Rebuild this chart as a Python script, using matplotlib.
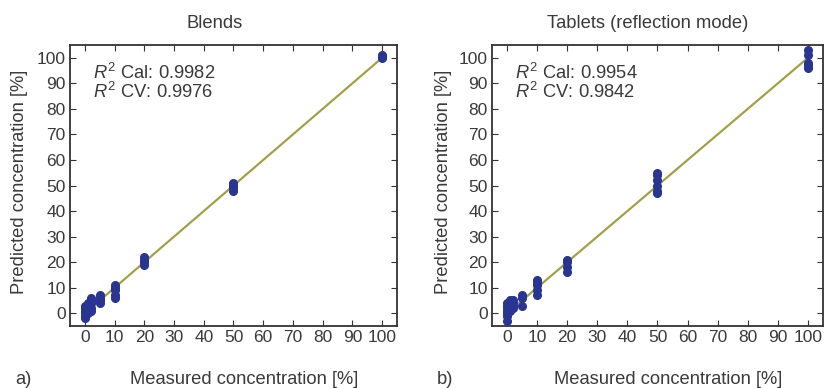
import matplotlib
matplotlib.use("Agg")
import matplotlib.pyplot as plt

plt.rcParams['font.family'] = ['Liberation Sans', 'DejaVu Sans']
plt.rcParams['mathtext.fontset'] = 'custom'
plt.rcParams['mathtext.rm'] = 'Liberation Sans'
plt.rcParams['mathtext.it'] = 'Liberation Sans:italic'

# Blends: measured vs predicted
blends_meas = [0, 0, 0, 0, 0, 0, 1, 1, 1, 1, 2, 2, 2, 2, 2, 5, 5, 5, 5,
               10, 10, 10, 10, 10, 20, 20, 20, 20, 50, 50, 50, 50, 100, 100, 100]
blends_pred = [-2, -1, 0, 1, 2, 3, 0, 1, 3, 4, 1, 2, 4, 5, 6, 4, 5, 6, 7,
               6, 7, 9, 10, 11, 19, 20, 21, 22, 48, 49, 50, 51, 100, 100.5, 101]
blends_r2 = ["0.9982", "0.9976"]

# Tablets (reflection mode)
tabl_meas = [0, 0, 0, 0, 0, 0, 0, 1, 1, 1, 1, 2, 2, 2, 2, 5, 5, 5,
             10, 10, 10, 10, 10, 20, 20, 20, 20, 50, 50, 50, 50, 50, 50,
             100, 100, 100, 100, 100]
tabl_pred = [-3, -1, 0, 1, 2, 3, 4, 1, 2, 4, 5, 2, 3, 4, 5, 3, 6, 7,
             7, 9, 11, 12, 13, 16, 18, 20, 21, 47, 48, 50, 52, 54, 55,
             96, 97, 98, 101, 103]
tabl_r2 = ["0.9954", "0.9842"]

titles = ["Blends", "Tablets (reflection mode)"]
panel_tags = ["a)", "b)"]
ticks = list(range(0, 101, 10))

W, H = 828, 388
txt = '#3a3a3a'
fs = 13.2

fig = plt.figure(figsize=(8.28, 3.88), dpi=100)
ax1 = fig.add_axes([70 / W, 1 - 326 / H, 327 / W, 281 / H])
ax2 = fig.add_axes([492 / W, 1 - 326 / H, 331 / W, 281 / H])

datasets = [(blends_meas, blends_pred, blends_r2), (tabl_meas, tabl_pred, tabl_r2)]
line_x = [0, 100]
title_x = [215, 648]
xlab_x = [244, 668]
ylab_x = [20, 444]
tag_x = [15, 437]

for i, ax in enumerate([ax1, ax2]):
    meas, pred, r2 = datasets[i]
    ax.plot(line_x, line_x, color='#a3a04a', lw=1.6, zorder=2)
    ax.plot(meas, pred, 'o', color='#2a3592', ms=5.5, zorder=3)
    ax.set_xlim(-5, 105)
    ax.set_ylim(-5, 105)
    ax.set_xticks(ticks)
    ax.set_yticks(ticks)
    ax.tick_params(direction='in', top=True, right=True, length=4, pad=3,
                   labelsize=12.5, colors='#333333', labelcolor=txt)
    for s in ax.spines.values():
        s.set_linewidth(1.3)
        s.set_color('#333333')
    ax.text(0.07, 0.90, "$R^2$ Cal: " + r2[0], transform=ax.transAxes,
            fontsize=fs, color=txt, va='center')
    ax.text(0.07, 0.833, "$R^2$ CV: " + r2[1], transform=ax.transAxes,
            fontsize=fs, color=txt, va='center')

    fig.text(title_x[i] / W, 1 - 24 / H, titles[i], fontsize=fs, color=txt,
             ha='center', va='center')
    fig.text(xlab_x[i] / W, 1 - 379 / H, "Measured concentration [%]",
             fontsize=fs, color=txt, ha='center', va='center')
    fig.text(ylab_x[i] / W, 1 - 182 / H, "Predicted concentration [%]",
             fontsize=fs, color=txt, ha='center', va='center', rotation=90)
    fig.text(tag_x[i] / W, 1 - 379 / H, panel_tags[i], fontsize=fs,
             color=txt, ha='left', va='center')

fig.savefig("out.png", dpi=100)
